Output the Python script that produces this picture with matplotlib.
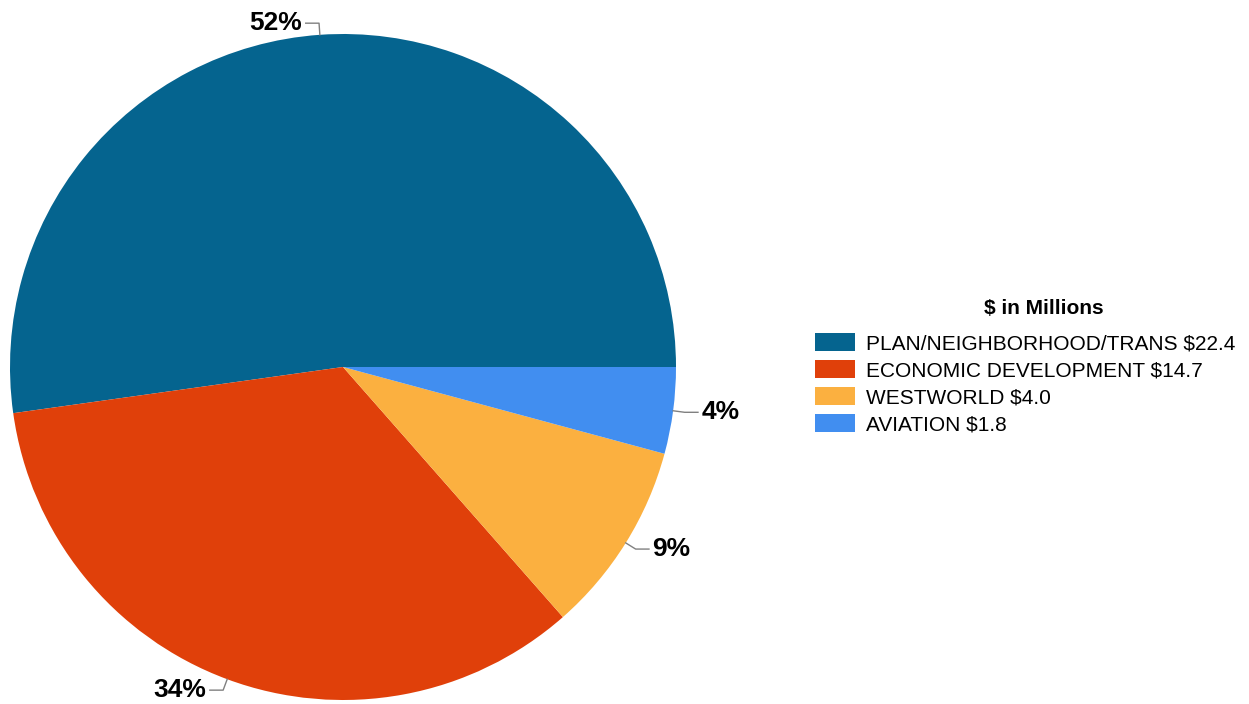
import numpy as np
import matplotlib.pyplot as plt
from matplotlib.patches import Rectangle

plt.rcParams['font.family'] = ['Liberation Sans', 'DejaVu Sans']

categories = ["PLAN/NEIGHBORHOOD/TRANS", "ECONOMIC DEVELOPMENT", "WESTWORLD", "AVIATION"]
values = [22.4, 14.7, 4.0, 1.8]
colors = ["#05648F", "#E0400A", "#FBB040", "#418EF0"]
legend_title = "$ in Millions"

W, H = 1249, 704
fig = plt.figure(figsize=(W / 100, H / 100), dpi=100)
ax = fig.add_axes([10 / W, 4 / H, 666 / W, 666 / H])

wedges, _ = ax.pie(values, colors=colors, startangle=0, counterclock=True,
                   radius=1.0, wedgeprops=dict(linewidth=0))
ax.set_xlim(-1, 1)
ax.set_ylim(-1, 1)
ax.set_aspect('equal')
ax.axis('off')

# percentage labels with elbow leader lines
total = sum(values)
for w, v in zip(wedges, values):
    ang = np.deg2rad((w.theta1 + w.theta2) / 2)
    x0, y0 = np.cos(ang), np.sin(ang)
    x1, y1 = 1.035 * x0, 1.035 * y0
    side = 1 if x0 >= 0 else -1
    x2 = x1 + side * 0.04
    ax.plot([x0, x1, x2], [y0, y1, y1], color="#808080", lw=1, clip_on=False)
    ax.text(x2 + side * 0.01, y1, f"{v / total * 100:.0f}%", fontsize=19,
            fontweight='bold', ha='left' if side > 0 else 'right', va='center')

# legend drawn in figure pixel coordinates
def fx(px):
    return px / W

def fy(py):
    return 1 - py / H

fig.text(fx(1044), fy(308), legend_title, fontsize=15, fontweight='bold',
         ha='center', va='center')
row0, step = 342, 27
for i, (c, v, col) in enumerate(zip(categories, values, colors)):
    yc = row0 + i * step
    fig.patches.append(Rectangle((fx(815), fy(yc + 9)), 40 / W, 18 / H,
                                 transform=fig.transFigure, facecolor=col,
                                 edgecolor='none'))
    fig.text(fx(866), fy(yc), f"{c} ${v:.1f}", fontsize=15,
             ha='left', va='center_baseline')

fig.savefig("out.png", dpi=100)
